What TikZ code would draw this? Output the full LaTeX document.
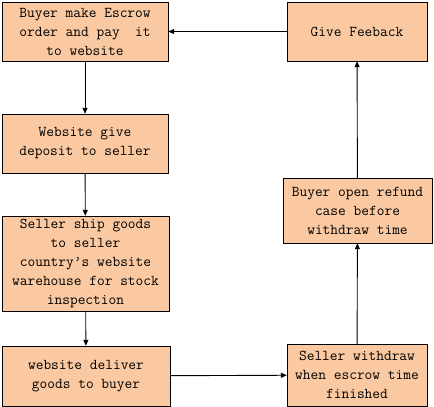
\documentclass[tikz,border=0pt]{standalone}
\usepackage{fontspec}
\usetikzlibrary{arrows.meta}
\definecolor{boxpeach}{RGB}{250,201,161}
\tikzset{
  fb/.style={draw=black, fill=boxpeach, align=center, inner sep=0pt,
             font=\fontsize{15}{19}\ttfamily},
  fa/.style={-{Triangle[length=6pt,width=5pt]}, black, line width=0.9pt}
}
\begin{document}
\begin{tikzpicture}[x=1pt, y=-1pt]
  \useasboundingbox (0,0) rectangle (434,407);
  \node[fb, minimum width=166pt, minimum height=59pt] (buy) at (85,31.5) {Buyer make Escrow\\order and pay~~it\\to website};
  \node[fb, minimum width=140pt, minimum height=59pt] (feed) at (357,31.5) {Give Feeback};
  \node[fb, minimum width=166pt, minimum height=59pt] (dep) at (85,143.5) {Website give\\deposit to seller};
  \node[fb, minimum width=167pt, minimum height=95pt] (ship) at (85.5,263.5) {Seller ship goods\\to seller\\country’s website\\warehouse for stock\\inspection};
  \node[fb, minimum width=168pt, minimum height=60pt] (dlv) at (86,376) {website deliver\\goods to buyer};
  \node[fb, minimum width=140pt, minimum height=62pt] (wd) at (357,375) {Seller withdraw\\when escrow time\\finished};
  \node[fb, minimum width=149pt, minimum height=65pt] (ref) at (357.5,210.5) {Buyer open refund\\case before\\withdraw time};
  \draw[fa] (buy) -- (dep); \draw[fa] (dep) -- (ship);
  \draw[fa] (ship) -- (dlv); \draw[fa] (dlv) -- (wd);
  \draw[fa] (wd) -- (ref); \draw[fa] (ref) -- (feed);
  \draw[fa] (feed) -- (buy);
\end{tikzpicture}
\end{document}
